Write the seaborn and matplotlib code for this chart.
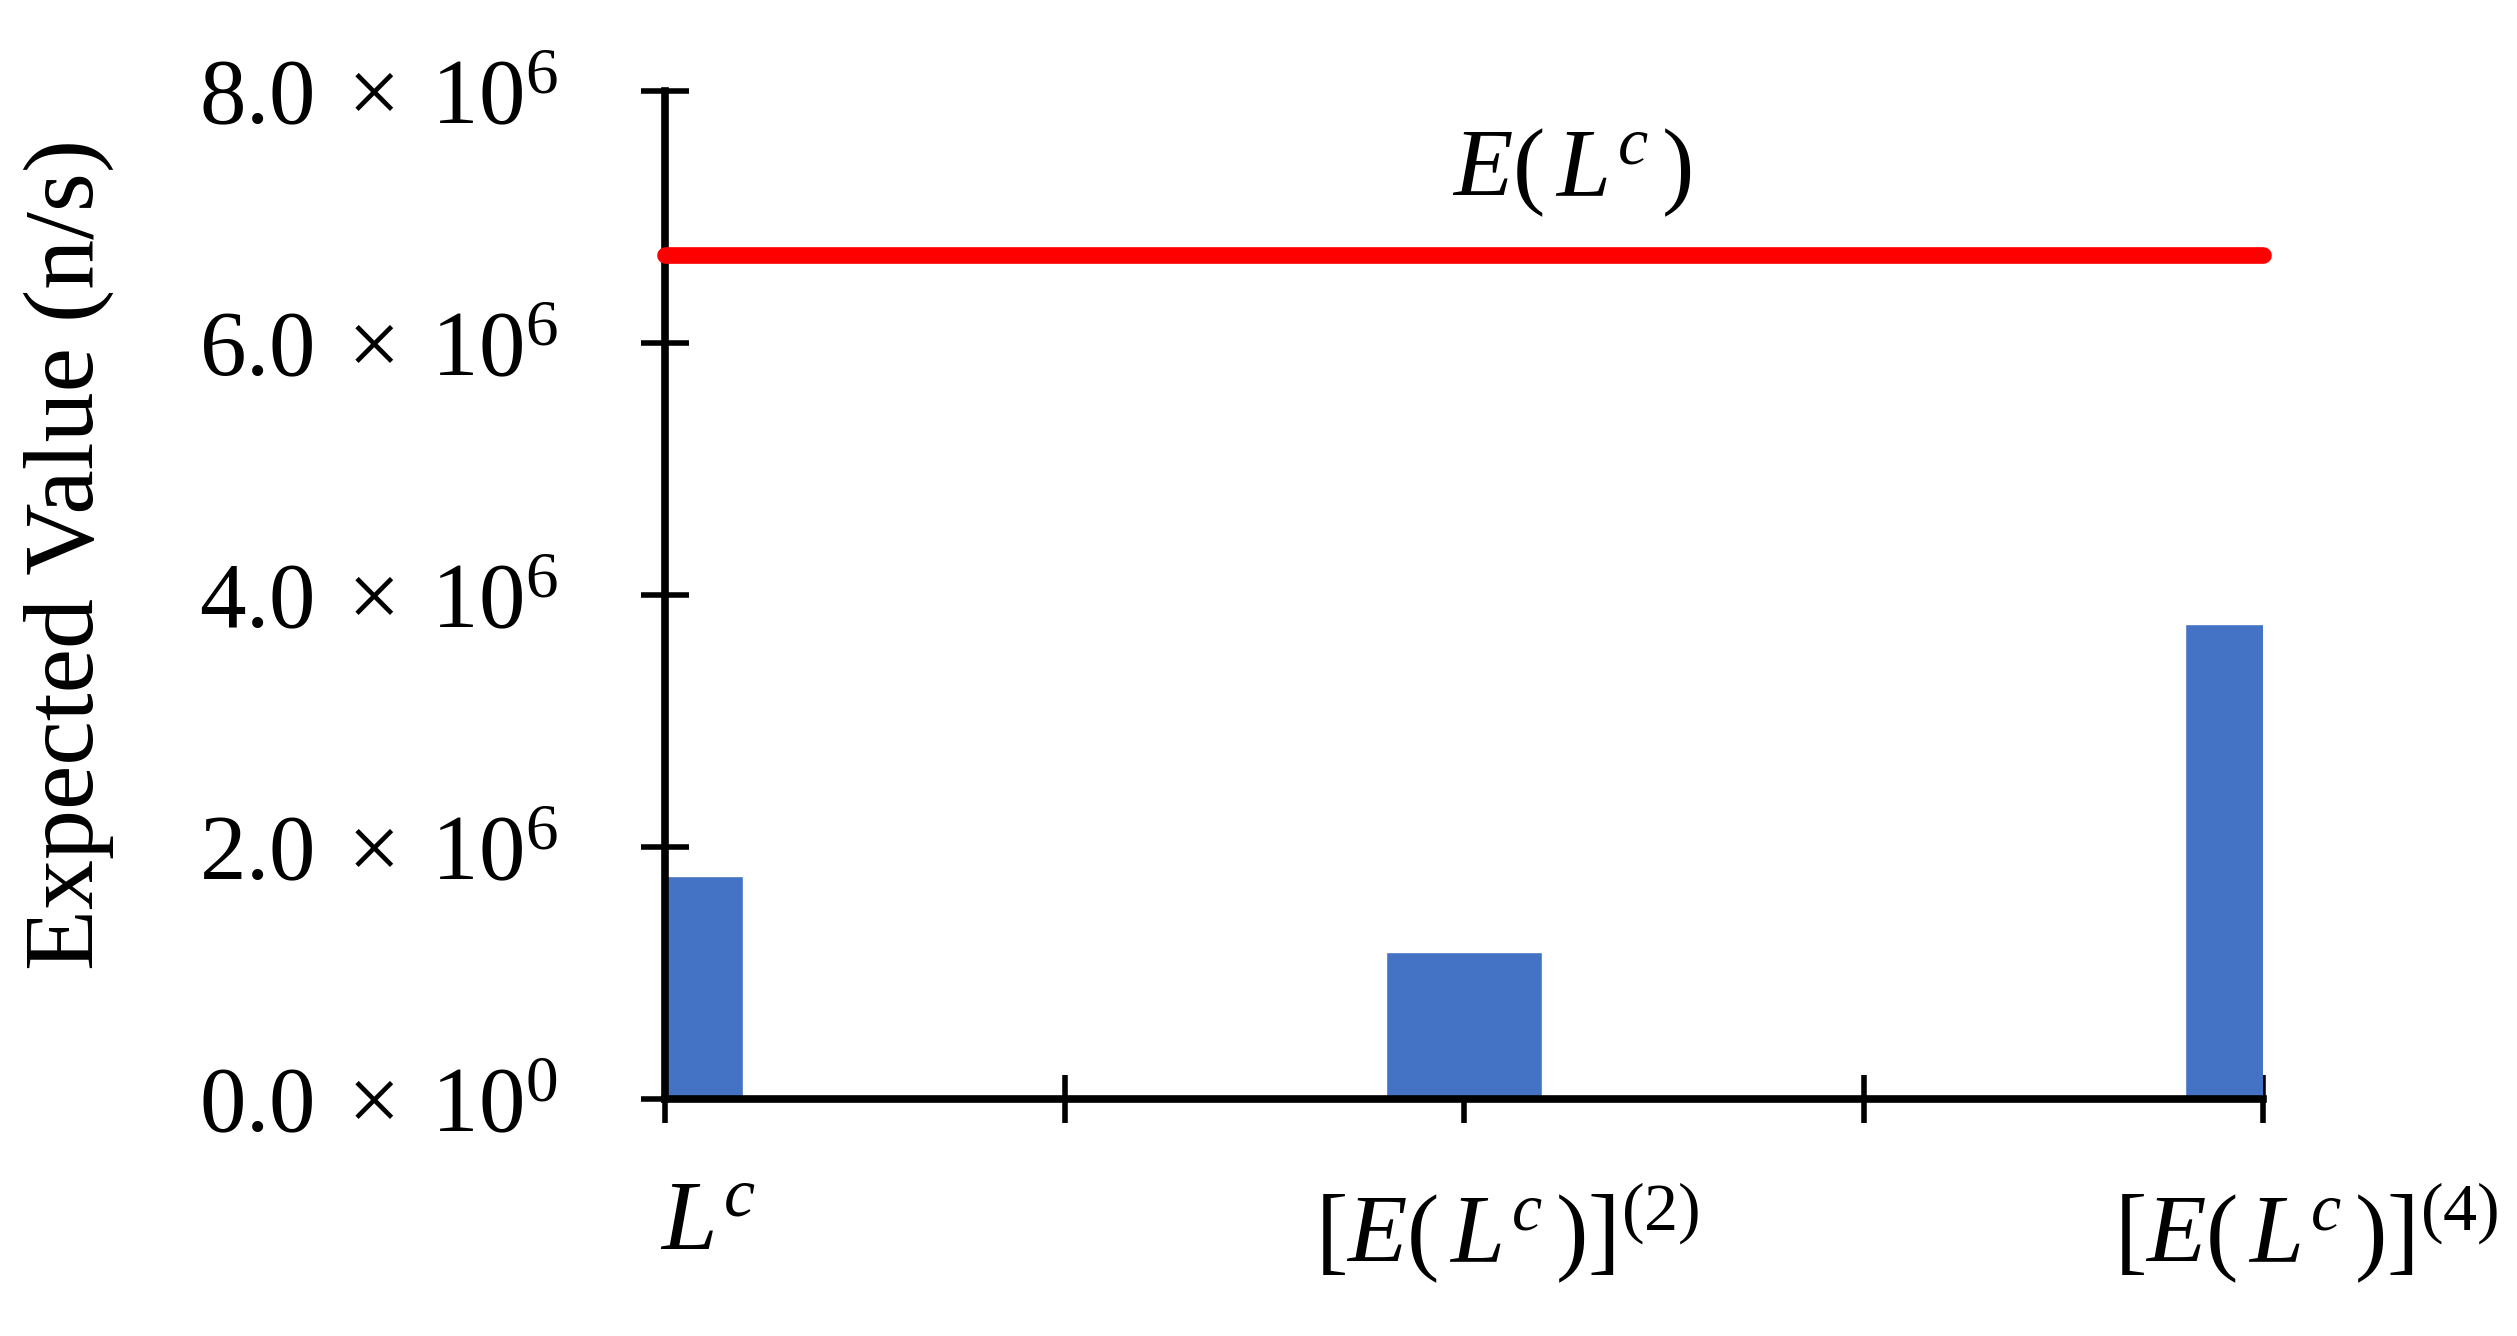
import numpy as np
import pandas as pd
import matplotlib
matplotlib.use("Agg")
import matplotlib.pyplot as plt
import matplotlib.transforms as mtransforms
import seaborn as sns

# values
positions = [0, 2, 4]
values = [1.77e6, 1.17e6, 3.77e6]
expected_total = 6.70e6          # red reference line E(L^c)
x_ticks = [0, 1, 2, 3, 4]
x_labels = [r"$L^c$", "", r"$[E(\,L^c\,)]^{(2)}$", "", r"$[E(\,L^c\,)]^{(4)}$"]
y_ticks = [0, 2e6, 4e6, 6e6, 8e6]
y_labels = [r"$0.0\;\times\;10^{0}$", r"$2.0\;\times\;10^{6}$", r"$4.0\;\times\;10^{6}$",
            r"$6.0\;\times\;10^{6}$", r"$8.0\;\times\;10^{6}$"]

sns.set_style("ticks")
plt.rcParams['font.family'] = ['Liberation Serif', 'DejaVu Serif']
plt.rcParams['mathtext.fontset'] = 'custom'
plt.rcParams['mathtext.rm'] = 'Liberation Serif'
plt.rcParams['mathtext.it'] = 'Liberation Serif:italic'
plt.rcParams['mathtext.bf'] = 'Liberation Serif:bold'
plt.rcParams['text.color'] = 'black'
plt.rcParams['axes.labelcolor'] = 'black'
plt.rcParams['xtick.color'] = 'black'
plt.rcParams['ytick.color'] = 'black'

df = pd.DataFrame({"pos": positions, "value": values})

fig = plt.figure(figsize=(25.17, 13.36), dpi=100)
ax = fig.add_axes([0.2642, 0.1774, 0.6349, 0.7545])

sns.barplot(data=df, x="pos", y="value", native_scale=True, width=0.195,
            color="#4472C4", saturation=1, ax=ax)

line_df = pd.DataFrame({"x": [x_ticks[0], x_ticks[-1]], "y": [expected_total] * 2})
sns.lineplot(data=line_df, x="x", y="y", color="#FF0000", linewidth=12,
             solid_capstyle="round", clip_on=False, ax=ax, zorder=5)
ax.text(2.27, 7.35e6, r"$E(\,L^c\,)$", fontsize=70, ha="center", va="center")

ax.set_xlim(0, 4)
ax.set_ylim(0, 8e6)
ax.set_xticks(x_ticks)
ax.set_xticklabels(x_labels)
for i, lbl in enumerate(ax.get_xticklabels()):
    lbl.set_fontsize(72 if i == 0 else 70)
ax.set_yticks(y_ticks)
ax.set_yticklabels(y_labels, fontsize=67)
ax.set_xlabel("")
ax.set_ylabel("Expected Value (n/s)", fontsize=72)
ax.yaxis.set_label_coords(-0.345, 0.54)

sns.despine(ax=ax)
for s in ["left", "bottom"]:
    ax.spines[s].set_linewidth(5.5)
    ax.spines[s].set_color("black")
ax.tick_params(axis="both", direction="inout", length=34, width=4, color="black")
ax.tick_params(axis="x", pad=42)
ax.tick_params(axis="y", pad=60)

offset = mtransforms.ScaledTranslation(0.43, 0, fig.dpi_scale_trans)
for lbl in ax.get_xticklabels():
    lbl.set_transform(lbl.get_transform() + offset)

fig.savefig("out.png", dpi=100, facecolor="white")
